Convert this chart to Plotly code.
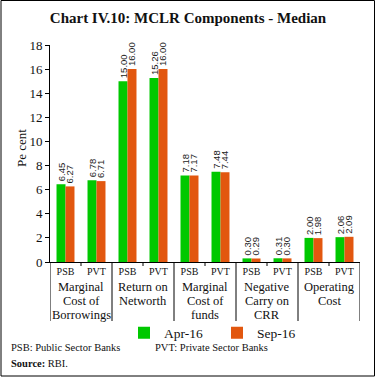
import plotly.graph_objects as go

groups = ["Marginal<br>Cost of<br>Borrowings", "Return on<br>Networth",
          "Marginal<br>Cost of<br>funds", "Negative<br>Carry on<br>CRR", "Operating<br>Cost"]
banks = ["PSB", "PVT"]
apr16 = [6.45, 6.78, 15.00, 15.26, 7.18, 7.48, 0.30, 0.31, 2.00, 2.06]
sep16 = [6.27, 6.71, 16.00, 16.00, 7.17, 7.44, 0.29, 0.30, 1.98, 2.09]
y_ticks = [0, 2, 4, 6, 8, 10, 12, 14, 16, 18]

sub_labels = [b for _ in groups for b in banks]
xpos = list(range(len(sub_labels)))

GREEN = "#00C800"
ORANGE = "#E2570F"
SERIF = "Liberation Serif, DejaVu Serif, serif"
SANS = "Liberation Sans, Arial, sans-serif"
INK = "#111"

L, R, T, B = 50, 16, 45, 115
W, H = 376, 377
pw, ph = W - L - R, H - T - B


def py(pix):
    """pixel row -> paper y"""
    return (H - B - pix) / ph


def px(pix):
    return (pix - L) / pw


fig = go.Figure()
for name, vals, col in [("Apr-16", apr16, GREEN), ("Sep-16", sep16, ORANGE)]:
    fig.add_trace(go.Bar(
        x=xpos, y=vals, name=name, marker=dict(color=col, line=dict(width=0)),
        text=[f"{v:.2f}" for v in vals], textposition="outside", textangle=-90,
        textfont=dict(family=SANS, size=9.5, color="#222"), cliponaxis=False,
        constraintext="none",
    ))

fig.update_layout(
    width=W, height=H, margin=dict(l=L, r=R, t=T, b=B, autoexpand=False),
    paper_bgcolor="white", plot_bgcolor="white",
    barmode="group", bargap=0.42, bargroupgap=0,
    title=dict(text="<b>Chart IV.10: MCLR Components - Median</b>", x=188 / W, xanchor="center",
               y=1 - 18 / H, yanchor="middle", font=dict(family=SERIF, size=15, color=INK)),
    font=dict(family=SERIF, color=INK),
    showlegend=True,
    legend=dict(orientation="h", x=124 / W, xanchor="left", xref="container",
                y=1 - 333 / H, yref="container", yanchor="middle",
                font=dict(family=SERIF, size=13.5, color=INK),
                entrywidth=48, entrywidthmode="pixels",
                bgcolor="rgba(0,0,0,0)"),
    xaxis=dict(range=[-0.5, len(xpos) - 0.5], tickvals=xpos, ticktext=sub_labels,
               showline=True, linecolor="black", linewidth=1, ticks="",
               tickfont=dict(family=SERIF, size=10, color=INK), showgrid=False,
               zeroline=False, automargin=False),
    yaxis=dict(range=[0, 18], tickvals=y_ticks, showline=True, linecolor="black", linewidth=1,
               ticks="outside", ticklen=4, tickcolor="black", showgrid=False, zeroline=False,
               tickfont=dict(family=SERIF, size=13, color=INK), automargin=False),
)

# y-axis title
fig.add_annotation(text="Pe cent", xref="paper", yref="paper", x=px(21), y=py(148),
                   textangle=-90, showarrow=False, xanchor="center", yanchor="middle",
                   font=dict(family=SERIF, size=13, color=INK))

# small ticks between PSB and PVT
for i in range(len(groups)):
    xt = 2 * i + 0.5
    fig.add_shape(type="line", xref="x", yref="paper", x0=xt, x1=xt, y0=0, y1=py(266),
                  line=dict(color="black", width=1))
# group dividers
for i in range(len(groups) + 1):
    xd = 2 * i - 0.5
    fig.add_shape(type="line", xref="x", yref="paper", x0=xd, x1=xd, y0=0, y1=py(321),
                  line=dict(color="black", width=1))

# group labels, one annotation per line
for i, g in enumerate(groups):
    for j, line in enumerate(g.split("<br>")):
        fig.add_annotation(text=line, xref="x", yref="paper", x=2 * i + 0.5, y=py(287 + 14 * j),
                           showarrow=False, xanchor="center", yanchor="middle",
                           font=dict(family=SERIF, size=12.5, color=INK))

fig.add_annotation(text="PSB: Public Sector Banks", xref="paper", yref="paper",
                   x=px(9), y=py(347), xanchor="left", yanchor="middle",
                   showarrow=False, font=dict(family=SERIF, size=10.5, color=INK))
fig.add_annotation(text="PVT: Private Sector Banks", xref="paper", yref="paper",
                   x=px(153), y=py(347), xanchor="left", yanchor="middle",
                   showarrow=False, font=dict(family=SERIF, size=10.5, color=INK))
fig.add_annotation(text="<b>Source:</b> RBI.", xref="paper", yref="paper",
                   x=px(9), y=py(363), xanchor="left", yanchor="middle",
                   showarrow=False, font=dict(family=SERIF, size=10.5, color=INK))

fig.add_shape(type="rect", xref="paper", yref="paper",
              x0=px(1), x1=px(374.5), y0=py(376), y1=py(0.5),
              line=dict(color="black", width=1), fillcolor="rgba(0,0,0,0)", layer="above")

fig.write_html("out.html", post_script="document.body.style.margin='0px';",
               config={"displayModeBar": False})
